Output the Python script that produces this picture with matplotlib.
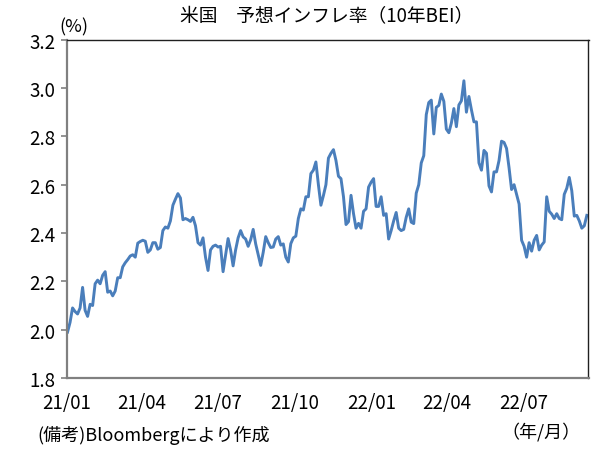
import pandas as pd
import numpy as np
import matplotlib
matplotlib.use('Agg')
import matplotlib.pyplot as plt
import matplotlib.dates as mdates

plt.rcParams['font.family'] = ['Noto Sans CJK JP', 'DejaVu Sans']

# 10-year BEI (%), one value every 3 days from 2021-01-02
bei = [
    1.99, 2.03, 2.09, 2.075, 2.065, 2.09, 2.175, 2.08, 2.055, 2.105,
    2.10, 2.19, 2.205, 2.19, 2.225, 2.24, 2.155, 2.16, 2.14, 2.16,
    2.215, 2.215, 2.26, 2.277, 2.29, 2.305, 2.31, 2.30, 2.358, 2.365,
    2.37, 2.366, 2.32, 2.33, 2.36, 2.36, 2.333, 2.34, 2.41, 2.425,
    2.42, 2.45, 2.515, 2.54, 2.563, 2.545, 2.455, 2.46, 2.455, 2.448,
    2.465, 2.43, 2.36, 2.35, 2.38, 2.30, 2.245, 2.33, 2.345, 2.35,
    2.342, 2.345, 2.24, 2.31, 2.377, 2.33, 2.264, 2.33, 2.38, 2.41,
    2.384, 2.375, 2.345, 2.372, 2.415, 2.355, 2.31, 2.266, 2.32, 2.385,
    2.36, 2.34, 2.342, 2.375, 2.385, 2.35, 2.355, 2.30, 2.28, 2.356,
    2.38, 2.387, 2.46, 2.50, 2.495, 2.55, 2.55, 2.646, 2.66, 2.694,
    2.60, 2.515, 2.555, 2.60, 2.71, 2.73, 2.745, 2.70, 2.635, 2.625,
    2.55, 2.435, 2.447, 2.556, 2.48, 2.42, 2.44, 2.42, 2.49, 2.50,
    2.59, 2.61, 2.625, 2.51, 2.51, 2.55, 2.473, 2.48, 2.375, 2.41,
    2.45, 2.485, 2.42, 2.41, 2.415, 2.465, 2.50, 2.445, 2.439, 2.565,
    2.60, 2.69, 2.72, 2.89, 2.94, 2.95, 2.81, 2.92, 2.928, 2.975,
    2.945, 2.83, 2.815, 2.855, 2.915, 2.84, 2.93, 2.947, 3.03, 2.90,
    2.965, 2.91, 2.86, 2.86, 2.69, 2.66, 2.742, 2.73, 2.595, 2.57,
    2.653, 2.653, 2.70, 2.78, 2.775, 2.75, 2.67, 2.58, 2.60, 2.56,
    2.52, 2.37, 2.345, 2.30, 2.36, 2.325, 2.37, 2.39, 2.33, 2.35,
    2.363, 2.55, 2.49, 2.478, 2.46, 2.48, 2.46, 2.455, 2.56, 2.585,
    2.63, 2.575, 2.47, 2.473, 2.45, 2.42, 2.43, 2.473,
]
dates = pd.date_range('2021-01-02', periods=len(bei), freq='3D')

yticks = [1.8, 2.0, 2.2, 2.4, 2.6, 2.8, 3.0, 3.2]
xticks = pd.to_datetime(['2021-01-01', '2021-04-01', '2021-07-01', '2021-10-01',
                         '2022-01-01', '2022-04-01', '2022-07-01'])
xlabels = ['21/01', '21/04', '21/07', '21/10', '22/01', '22/04', '22/07']

fig = plt.figure(figsize=(6.02, 4.52), dpi=100)
ax = fig.add_axes([66.7 / 602, 1 - 379 / 452, (588.5 - 66.7) / 602, (379 - 40.7) / 452])

ax.plot(dates, bei, color='#4a7ebb', lw=2.1, solid_joinstyle='round')

ax.set_ylim(1.8, 3.2)
ax.set_yticks(yticks)
ax.set_yticklabels(['%.1f' % v for v in yticks])
ax.set_xlim(pd.Timestamp('2021-01-01'), pd.Timestamp('2022-09-17'))
ax.set_xticks(xticks)
ax.set_xticklabels(xlabels)

ax.tick_params(axis='y', length=4, width=1.2, color='#808080', pad=4, labelsize=13.5)
ax.tick_params(axis='x', length=0, pad=10, labelsize=13.5)

for s in ['left', 'bottom']:
    ax.spines[s].set_color('#808080')
    ax.spines[s].set_linewidth(1.6)
for s in ['top', 'right']:
    ax.spines[s].set_color('#202020')
    ax.spines[s].set_linewidth(1.0)

fig.text(327 / 602, 1 - 17 / 452, '米国\u3000予想インフレ率（10年BEI）',
         ha='center', va='center', fontsize=13.5)
fig.text(74 / 602, 1 - 27 / 452, '(%)', ha='center', va='center', fontsize=13)
fig.text(37 / 602, 1 - 435 / 452, '(備考)Bloombergにより作成',
         ha='left', va='center', fontsize=13)
fig.text(581 / 602, 1 - 432 / 452, '（年/月）', ha='right', va='center', fontsize=13)

fig.savefig('out.png', dpi=100)
